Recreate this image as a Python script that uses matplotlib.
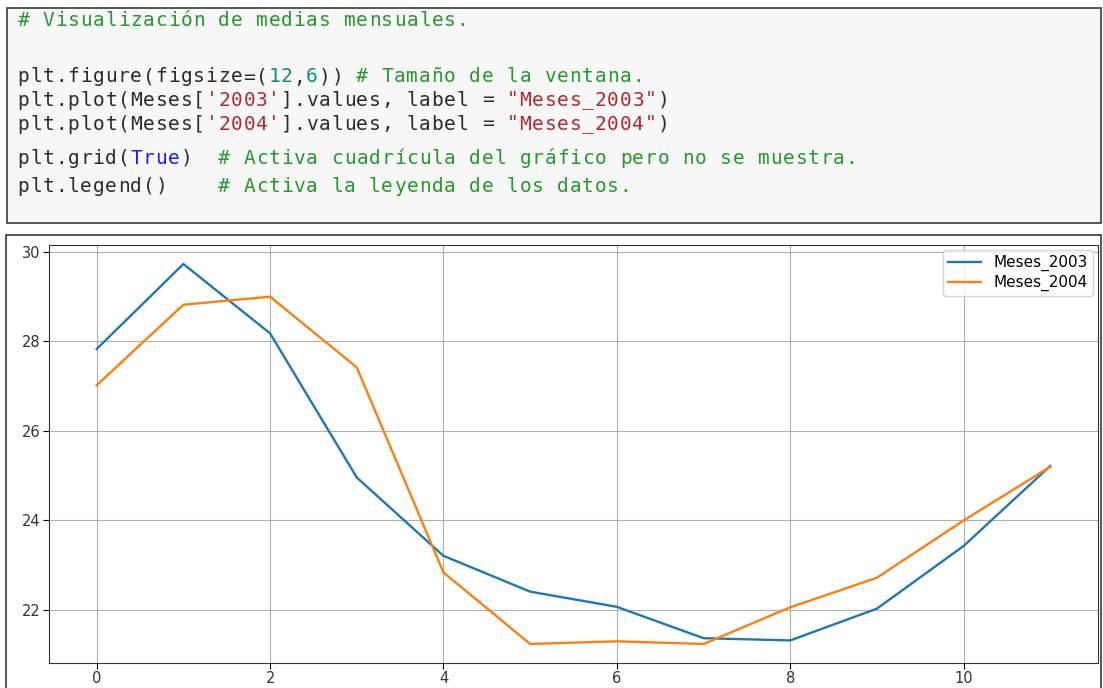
import matplotlib
matplotlib.use("Agg")
import matplotlib.pyplot as plt
from matplotlib.patches import Rectangle

# datos (medias mensuales)
meses = list(range(12))
meses_2003 = [27.83, 29.73, 28.18, 24.96, 23.21, 22.41, 22.07, 21.37, 21.32, 22.03, 23.43, 25.22]
meses_2004 = [27.02, 28.82, 29.00, 27.42, 22.84, 21.24, 21.30, 21.24, 22.06, 22.72, 24.00, 25.20]
etiquetas = ["Meses_2003", "Meses_2004"]

W, H = 1103, 688
fig = plt.figure(figsize=(W / 100, H / 100), dpi=100)
fig.patch.set_facecolor("white")

def fx(px):
    return px / W

def fy(py):
    return 1 - py / H

# celda de codigo
VERDE = "#259a2a"
ROJO = "#b3282d"
NUM = "#14897a"
AZUL = "#1a1aff"
TXT = "#2b2b2b"

lineas = [
    (21, [("# Visualización de medias mensuales.", VERDE)]),
    (77, [("plt.figure(figsize=(", TXT), ("12", NUM), (",", TXT), ("6", NUM),
          (")) ", TXT), ("# Tamaño de la ventana.", VERDE)]),
    (100, [("plt.plot(Meses[", TXT), ("'2003'", ROJO), ("].values, label = ", TXT),
           ('"Meses_2003"', ROJO), (")", TXT)]),
    (124, [("plt.plot(Meses[", TXT), ("'2004'", ROJO), ("].values, label = ", TXT),
           ('"Meses_2004"', ROJO), (")", TXT)]),
    (158, [("plt.grid(", TXT), ("True", AZUL), (")  ", TXT),
           ("# Activa cuadrícula del gráfico pero no se muestra.", VERDE)]),
    (186, [("plt.legend()    ", TXT), ("# Activa la leyenda de los datos.", VERDE)]),
]

fig.patches.append(Rectangle((fx(7), fy(223)), fx(1101 - 7), (223 - 8) / H,
                             transform=fig.transFigure, facecolor="#f7f7f7",
                             edgecolor="#3a3a3a", lw=1.2, zorder=0))

# cada caracter en su columna, como en el editor
x0 = 17
cw = 12.55
for y, tokens in lineas:
    col = 0
    for texto, color in tokens:
        for c in texto:
            if c != " ":
                fig.text(fx(x0 + col * cw + cw / 2), fy(y), c, color=color,
                         family="DejaVu Sans Mono", fontsize=14,
                         va="center", ha="center")
            col += 1

# marco de la salida
fig.patches.append(Rectangle((fx(6), fy(700)), fx(1101 - 6), (700 - 235) / H,
                             transform=fig.transFigure, facecolor="none",
                             edgecolor="#3a3a3a", lw=1.2, zorder=0))

ax = fig.add_axes([fx(49), fy(663), fx(1098 - 49), (663 - 245) / H])
ax.plot(meses, meses_2003, label=etiquetas[0], lw=1.7)
ax.plot(meses, meses_2004, label=etiquetas[1], lw=1.7)
ax.grid(True)
ax.legend(fontsize=11, loc="upper right", labelspacing=0.25, borderpad=0.3,
          borderaxespad=0.35, handlelength=2.2)
ax.set_yticks([22, 24, 26, 28, 30])
ax.tick_params(labelsize=10.5, length=4.5, pad=1.5, labelcolor="#333333")
for s in ax.spines.values():
    s.set_color("#333333")

fig.savefig("out.png", dpi=100)
